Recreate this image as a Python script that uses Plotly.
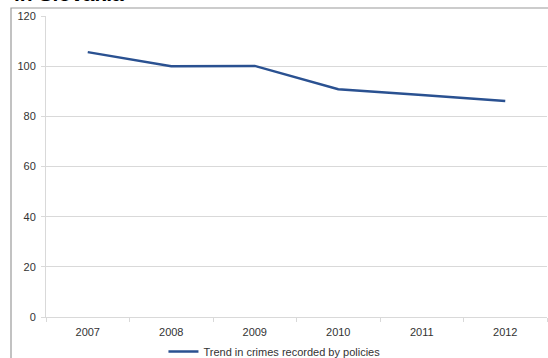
import plotly.graph_objects as go

years = ["2007", "2008", "2009", "2010", "2011", "2012"]
crimes_index = [105.6, 100.0, 100.1, 90.8, 88.5, 86.1]
series_name = "Trend in crimes recorded by policies"
title_text = "in Slovakia"
y_ticks = [0, 20, 40, 60, 80, 100, 120]

W, H = 548, 358
L, R, T, B = 46, 1, 16, 41
pw = W - L - R
ph = H - T - B

font_family = "Liberation Sans, Arial, sans-serif"
grid = "#d9d9d9"

fig = go.Figure()
fig.add_trace(go.Scatter(
    x=years, y=crimes_index, mode="lines", name=series_name,
    line=dict(color="#2a5191", width=2.5),
))

fig.update_layout(
    width=W, height=H,
    margin=dict(l=L, r=R, t=T, b=B, autoexpand=False),
    paper_bgcolor="white", plot_bgcolor="white",
    font=dict(family=font_family, size=11, color="#404040"),
    showlegend=True,
    legend=dict(orientation="h", x=0.456, xanchor="center",
                yref="container", y=0.018, yanchor="middle",
                font=dict(size=11, color="#333333"), bgcolor="rgba(0,0,0,0)"),
    xaxis=dict(type="category", tickson="boundaries", ticks="outside", ticklen=4,
               tickcolor=grid, showline=True, linecolor=grid, linewidth=1,
               showgrid=False, tickfont=dict(size=11, color="#333333"),
               ticklabelstandoff=5, range=[-0.5, 5.5]),
    yaxis=dict(range=[0, 120], tickvals=y_ticks, ticks="outside", ticklen=4,
               tickcolor=grid, showline=True, linecolor=grid, linewidth=1,
               gridcolor=grid, gridwidth=1, zeroline=False,
               ticklabelstandoff=3,
               tickfont=dict(size=11, color="#333333")),
)

# outer chart frame (extends past the visible area)
fig.add_shape(type="rect", xref="paper", yref="paper",
              xsizemode="pixel", ysizemode="pixel", xanchor=0, yanchor=1,
              x0=11 - L, x1=W, y0=-H, y1=T - 8,
              line=dict(color="#9a9a9a", width=1.2), fillcolor="rgba(0,0,0,0)",
              layer="below")

# clipped title at the top
fig.add_annotation(text="<b>" + title_text + "</b>", xref="paper", yref="paper",
                   x=(12 - L) / pw, xanchor="left",
                   y=1 + (T - 3.5) / ph, yanchor="bottom", yshift=-3.5,
                   showarrow=False, font=dict(size=21, color="black", family=font_family))

fig.write_html("out.html", config={"displayModeBar": False},
               post_script="document.body.style.margin='0';document.body.style.overflow='hidden';")
